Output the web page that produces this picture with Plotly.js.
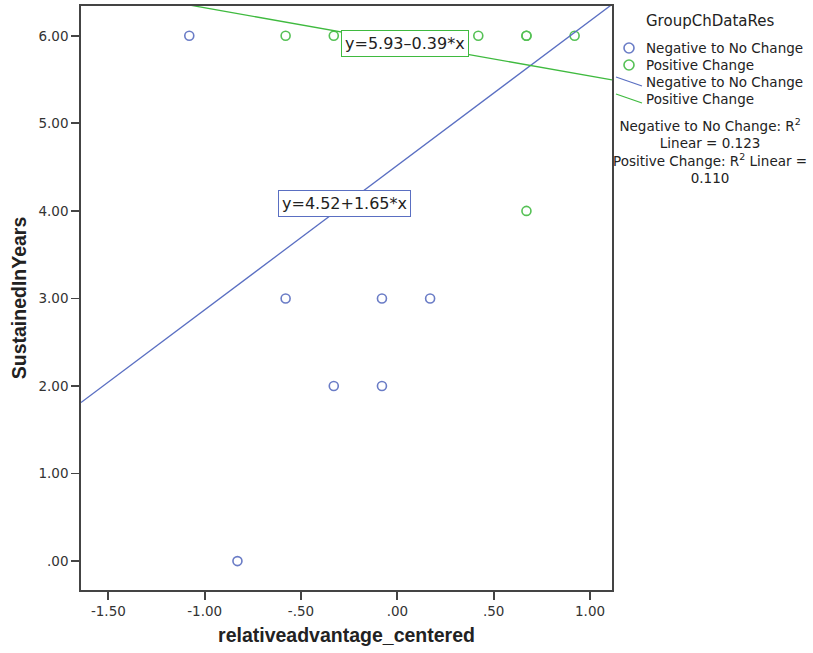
<!DOCTYPE html>
<html><head><meta charset="utf-8">
<script src="https://cdn.plot.ly/plotly-3.0.1.min.js"></script>
<style>body{margin:0;background:#fff}#chart{width:813px;height:653px}</style>
</head><body><div id="chart"></div>
<script>
// Data
const groups = ["Negative to No Change", "Positive Change"];
const legendTitle = "GroupChDataRes";
const negX = [-1.08, -0.83, -0.58, -0.33, -0.08, -0.08, 0.17];
const negY = [6, 0, 3, 2, 3, 2, 3];
const posX = [-0.58, -0.33, 0.42, 0.67, 0.67, 0.67, 0.92];
const posY = [6, 6, 6, 6, 6, 4, 6];
const fitIntercept = [4.52, 5.93];
const fitSlope = [1.65, -0.39];
const fitR2 = ["0.123", "0.110"];
const eqLabelX = [-0.276, 0.039];
const eqLabelY = [4.08, 5.91];
const xTickVals = [-1.5, -1.0, -0.5, 0, 0.5, 1.0];
const xTickText = ["-1.50", "-1.00", "-.50", ".00", ".50", "1.00"];
const yTickVals = [0, 1, 2, 3, 4, 5, 6];
const yTickText = [".00", "1.00", "2.00", "3.00", "4.00", "5.00", "6.00"];

const markerCol = ["#6a7cc6", "#55c155"];
const lineCol = ["#5a6fc2", "#3fba3f"];
const xRange = [-1.642, 1.114];
const yRange = [-0.33, 6.34];
const FONT = "DejaVu Sans, Verdana, sans-serif";
const TFONT = "Liberation Sans, Arial, sans-serif";

// plot area geometry (pixels)
const W = 813, H = 653, L = 81, R = 201, T = 6, B = 63;
const PW = W - L - R, PH = H - T - B;
const px = x => (x - L) / PW;
const py = y => (H - B - y) / PH;

const fitX = [xRange[0], xRange[1]];
function fitLine(i){ return fitX.map(x => fitIntercept[i] + fitSlope[i]*x); }

const traces = [
  {x: negX, y: negY, type: "scatter", mode: "markers", name: groups[0],
   marker: {symbol: "circle-open", size: 9, color: markerCol[0], line: {width: 1.6}}},
  {x: posX, y: posY, type: "scatter", mode: "markers", name: groups[1],
   marker: {symbol: "circle-open", size: 9, color: markerCol[1], line: {width: 1.6}}},
  {x: fitX, y: fitLine(0), type: "scatter", mode: "lines", name: groups[0],
   line: {color: lineCol[0], width: 1.3}},
  {x: fitX, y: fitLine(1), type: "scatter", mode: "lines", name: groups[1],
   line: {color: lineCol[1], width: 1.3}}
];

function fmt(v){ return Math.abs(v).toFixed(2); }
const annotations = [0, 1].map(i => ({
  x: eqLabelX[i], y: eqLabelY[i], xref: "x", yref: "y", showarrow: false,
  text: "y=" + fitIntercept[i].toFixed(2) + (fitSlope[i] < 0 ? "–" : "+") + fmt(fitSlope[i]) + "*x",
  font: {family: FONT, size: 16, color: "#222"},
  bgcolor: "#fff", bordercolor: lineCol[i], borderwidth: 1, borderpad: 3
}));

// custom legend (SPSS style)
const legFont = {family: FONT, size: 13.5, color: "#222"};
annotations.push({xref: "paper", yref: "paper", x: px(710), y: py(21), xanchor: "center", yanchor: "middle",
  showarrow: false, text: legendTitle, font: {family: FONT, size: 15, color: "#222"}});
const rowY = [48, 65, 82, 99];
const rowText = [groups[0], groups[1], groups[0], groups[1]];
rowText.forEach((t, k) => annotations.push({xref: "paper", yref: "paper", x: px(644), y: py(rowY[k]),
  xanchor: "left", yanchor: "middle", showarrow: false, text: t, font: legFont}));
annotations.push({
  xref: "paper", yref: "paper", x: px(710), y: py(114), xanchor: "center", yanchor: "top",
  showarrow: false, align: "center",
  text: groups[0] + ": R<sup>2</sup><br>Linear = " + fitR2[0] + "<br>" + groups[1] + ": R<sup>2</sup> Linear =<br>" + fitR2[1],
  font: legFont
});

const shapes = [];
[0, 1].forEach(i => {
  shapes.push({type: "circle", xref: "paper", yref: "paper", xsizemode: "pixel", ysizemode: "pixel",
    xanchor: px(629), yanchor: py(rowY[i]), x0: -5, x1: 5, y0: -5, y1: 5,
    line: {color: markerCol[i], width: 1.6}, fillcolor: "rgba(0,0,0,0)"});
  shapes.push({type: "line", xref: "paper", yref: "paper",
    x0: px(616), y0: py(rowY[i + 2] - 5), x1: px(642), y1: py(rowY[i + 2] + 4),
    line: {color: lineCol[i], width: 1.3}});
});

const axisCommon = {
  showline: true, mirror: true, linecolor: "#444", linewidth: 1.8,
  ticks: "outside", ticklen: 8, tickwidth: 1.8, tickcolor: "#444",
  showgrid: false, zeroline: false, tickmode: "array", automargin: false,
  tickfont: {family: FONT, size: 13.5, color: "#333"}
};

const layout = {
  width: W, height: H,
  margin: {l: L, r: R, t: T, b: B},
  paper_bgcolor: "#fff", plot_bgcolor: "#fff",
  xaxis: Object.assign({}, axisCommon, {range: xRange, tickvals: xTickVals, ticktext: xTickText,
    title: {text: "<b>relativeadvantage_centered</b>", font: {family: TFONT, size: 19.5, color: "#222"}, standoff: 10}}),
  yaxis: Object.assign({}, axisCommon, {range: yRange, tickvals: yTickVals, ticktext: yTickText,
    title: {text: "<b>SustainedInYears</b>", font: {family: TFONT, size: 19.5, color: "#222"}, standoff: 7}}),
  showlegend: false,
  annotations: annotations,
  shapes: shapes
};

Plotly.newPlot("chart", traces, layout, {displayModeBar: false, staticPlot: true});
</script></body></html>
